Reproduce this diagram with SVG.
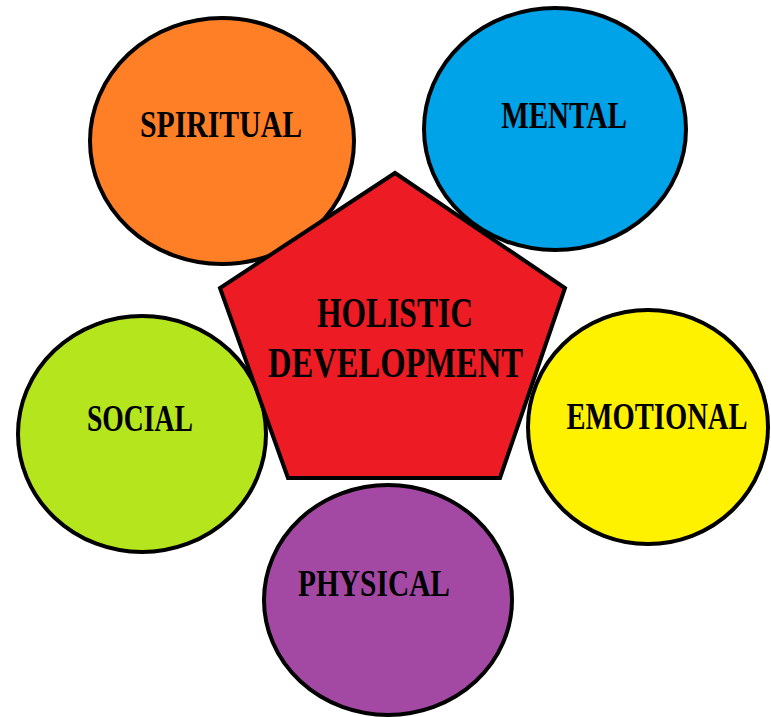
<svg xmlns="http://www.w3.org/2000/svg" width="771" height="717" viewBox="0 0 771 717">
<style>
.c{stroke:#000;stroke-width:4}
.t{font-family:"Liberation Serif",serif;font-weight:bold;fill:#000;font-size:38px;text-anchor:middle}
.big{font-size:43px}
</style>
<rect width="771" height="717" fill="#fff"/>
<g id="spiritual"><ellipse class="c" cx="222" cy="141" rx="132" ry="123" fill="#FF7F27"/><text class="t" transform="translate(221,137) scale(0.783,1)">SPIRITUAL</text></g>
<g id="mental"><ellipse class="c" cx="555" cy="129" rx="131" ry="121" fill="#00A2E8"/><text class="t" transform="translate(564,128) scale(0.767,1)">MENTAL</text></g>
<g id="social"><ellipse class="c" cx="142" cy="434" rx="124" ry="118" fill="#B5E61D"/><text class="t" transform="translate(140,431) scale(0.728,1)">SOCIAL</text></g>
<g id="emotional"><ellipse class="c" cx="648" cy="427" rx="120" ry="117" fill="#FFF200"/><text class="t" transform="translate(657,429) scale(0.752,1)">EMOTIONAL</text></g>
<g id="physical"><ellipse class="c" cx="388" cy="600" rx="124" ry="115" fill="#A349A4"/><text class="t" transform="translate(374,596) scale(0.774,1)">PHYSICAL</text></g>
<g id="holistic"><polygon class="c" points="395,173 565,288 500,478 288,478 220,288" fill="#ED1C24"/><text class="t big" transform="translate(395,327) scale(0.733,1)">HOLISTIC</text><text class="t big" transform="translate(395.5,377) scale(0.757,1)">DEVELOPMENT</text></g>
<g id="connectors"/>
</svg>
